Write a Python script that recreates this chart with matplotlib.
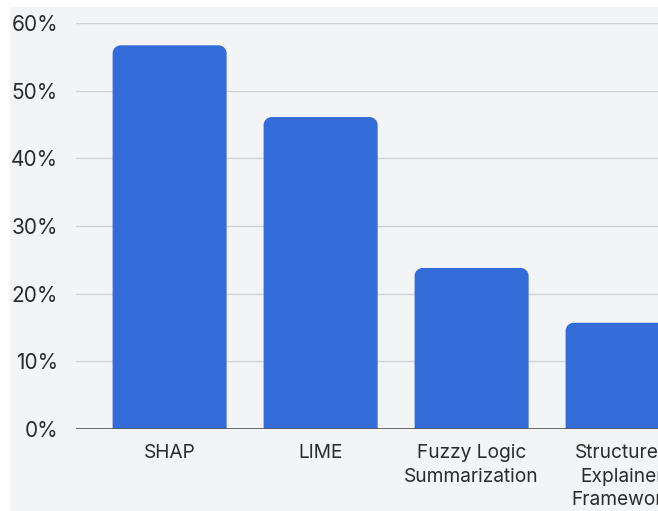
import matplotlib.pyplot as plt
from matplotlib.patches import Rectangle, PathPatch
from matplotlib.path import Path
from matplotlib.ticker import FuncFormatter

methods = ["SHAP", "LIME", "Fuzzy Logic\nSummarization", "Structured\nExplainer\nFramework"]
shares = [56.7, 46.1, 23.8, 15.7]
y_ticks = [0, 10, 20, 30, 40, 50, 60]

BAR_COLOR = "#336bd9"
BG_COLOR = "#f3f4f6"
TEXT_COLOR = "#2b2b2b"

plt.rcParams["font.family"] = ["Inter", "DejaVu Sans"]

W, H = 658, 511
fig = plt.figure(figsize=(W / 100, H / 100), dpi=100, facecolor="white")

# grey panel behind the chart, leaving a thin white margin left and top
fig.patches.append(Rectangle((10 / W, 0), 1, 1 - 7 / H, transform=fig.transFigure,
                             facecolor=BG_COLOR, edgecolor="none", zorder=-10))

x0, x1 = -0.62, 3.62
ax_left, ax_bottom = 76 / W, (H - 429) / H
ax_w, ax_h = (x1 - x0) * 151 / W, 406 / H
ax = fig.add_axes([ax_left, ax_bottom, ax_w, ax_h])
ax.set_facecolor("none")
ax.set_xlim(x0, x1)
ax.set_ylim(0, 60)

bars = ax.bar(range(len(methods)), shares, width=0.755, color=BAR_COLOR, zorder=3)

# swap the plain rectangles for ones with rounded top corners
r_px = 8
rx = r_px * (x1 - x0) / (ax_w * W)
ry = r_px * 60 / (ax_h * H)
k = 0.5523
for b in bars:
    x, y, w, h = b.get_x(), b.get_y(), b.get_width(), b.get_height()
    b.remove()
    verts = [
        (x, y), (x, y + h - ry),
        (x, y + h - ry + k * ry), (x + rx - k * rx, y + h), (x + rx, y + h),
        (x + w - rx, y + h),
        (x + w - rx + k * rx, y + h), (x + w, y + h - ry + k * ry), (x + w, y + h - ry),
        (x + w, y), (x, y),
    ]
    codes = [Path.MOVETO, Path.LINETO,
             Path.CURVE4, Path.CURVE4, Path.CURVE4,
             Path.LINETO,
             Path.CURVE4, Path.CURVE4, Path.CURVE4,
             Path.LINETO, Path.CLOSEPOLY]
    ax.add_patch(PathPatch(Path(verts, codes), facecolor=BAR_COLOR, edgecolor="none", zorder=3))

ax.set_yticks(y_ticks)
ax.yaxis.set_major_formatter(FuncFormatter(lambda v, _: f"{v:.0f}%"))
ax.grid(axis="y", color="#cfd2d6", linewidth=1, zorder=0)
ax.axhline(0, color="#555555", linewidth=1.2, zorder=4)

ax.set_xticks(range(len(methods)))
ax.set_xticklabels(methods, fontsize=13.8, color=TEXT_COLOR, linespacing=1.4)
ax.tick_params(axis="y", labelsize=15, labelcolor=TEXT_COLOR, length=0, pad=13)
ax.tick_params(axis="x", length=0, pad=11)

for s in ax.spines.values():
    s.set_visible(False)

fig.savefig("out.png", dpi=100, facecolor=fig.get_facecolor())
